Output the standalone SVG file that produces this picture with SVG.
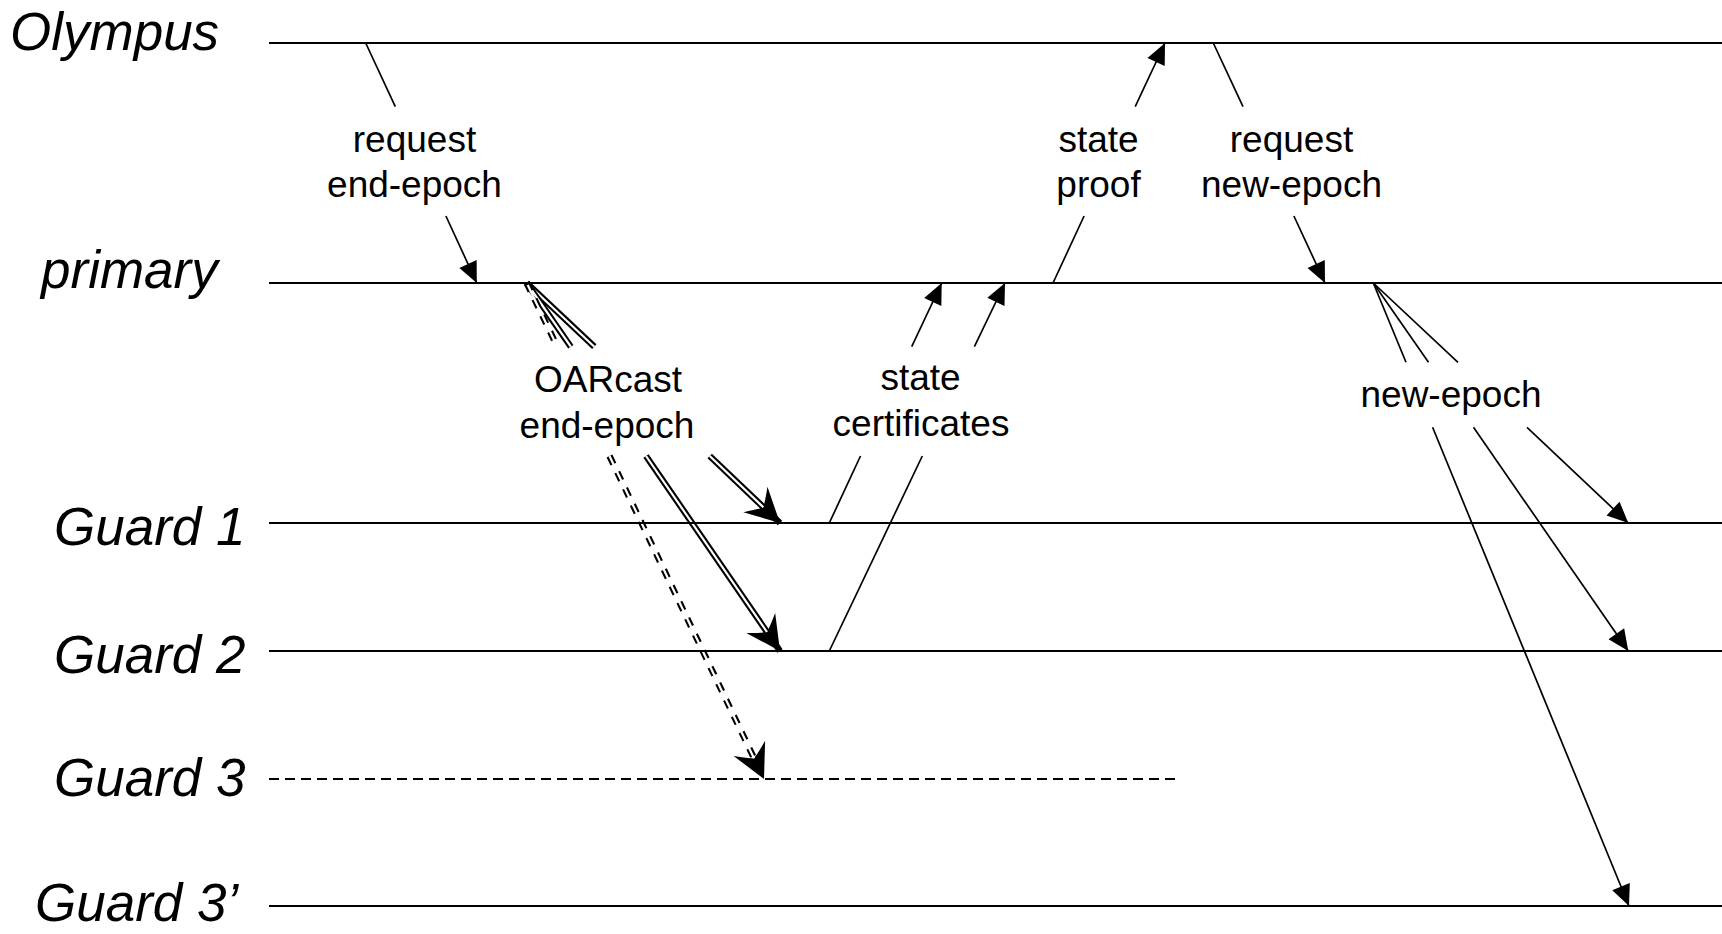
<svg xmlns="http://www.w3.org/2000/svg" width="1722" height="934" viewBox="0 0 1722 934">
  <style>
    .lane { stroke: #000; stroke-width: 2; fill: none; }
    .lane-dash { stroke: #000; stroke-width: 2; fill: none; stroke-dasharray: 10 6; }
    .lane-label { font-family: "Liberation Sans", Arial, sans-serif; font-style: italic; font-size: 53px; fill: #000; }
    .msg { stroke: #000; stroke-width: 1.7; fill: none; }
    .dbl-outer { stroke: #000; stroke-width: 6.4; fill: none; }
    .dbl-outer-dash { stroke: #000; stroke-width: 6.4; fill: none; stroke-dasharray: 9 9; }
    .dbl-inner { stroke: #fff; stroke-width: 2.2; fill: none; }
    .msg-label { font-family: "Liberation Sans", Arial, sans-serif; font-size: 37px; fill: #000; text-anchor: middle; }
  </style>
  <defs>
    <marker id="arrow" viewBox="-24 -12 26 24" markerWidth="26" markerHeight="24" refX="0" refY="0" orient="auto" markerUnits="userSpaceOnUse">
      <path d="M0,0 L-21,-9.5 L-21,9.5 Z" fill="#000"/>
    </marker>
    <marker id="arrow-big" viewBox="-38 -20 40 40" markerWidth="40" markerHeight="40" refX="0" refY="0" orient="auto" markerUnits="userSpaceOnUse">
      <path d="M0,0 L-34,-17.5 Q-26,-6 -23,0 Q-26,6 -34,17.5 Z" fill="#000"/>
    </marker>
  </defs>

  <rect x="0" y="0" width="1722" height="934" fill="#fff"/>

  <!-- message arrows between the lanes -->
  <g id="connectors">
    <!-- request end-epoch: Olympus -> primary -->
    <line class="msg" x1="365.7" y1="43" x2="395.3" y2="106.7"/>
    <line class="msg" x1="445.9" y1="216" x2="476.8" y2="283" marker-end="url(#arrow)"/>

    <!-- state proof: primary -> Olympus -->
    <line class="msg" x1="1053" y1="283" x2="1084.1" y2="216"/>
    <line class="msg" x1="1135.2" y1="106.7" x2="1165" y2="43" marker-end="url(#arrow)"/>

    <!-- request new-epoch: Olympus -> primary -->
    <line class="msg" x1="1213.3" y1="43" x2="1243" y2="106.7"/>
    <line class="msg" x1="1293.9" y1="216" x2="1325" y2="283" marker-end="url(#arrow)"/>

    <!-- state certificates: Guard 1 / Guard 2 -> primary -->
    <line class="msg" x1="829.3" y1="523" x2="860.5" y2="456"/>
    <line class="msg" x1="911.7" y1="346.7" x2="941.7" y2="283" marker-end="url(#arrow)"/>
    <line class="msg" x1="829.3" y1="651" x2="922.3" y2="456"/>
    <line class="msg" x1="974.4" y1="346.7" x2="1005" y2="283" marker-end="url(#arrow)"/>

    <!-- new-epoch: primary -> Guard 1, Guard 2, Guard 3' -->
    <line class="msg" x1="1373.3" y1="283" x2="1458" y2="362.3"/>
    <line class="msg" x1="1527" y1="427.3" x2="1628.3" y2="523" marker-end="url(#arrow)"/>
    <line class="msg" x1="1373.3" y1="283" x2="1428.5" y2="362.3"/>
    <line class="msg" x1="1473.5" y1="427.3" x2="1628.3" y2="651" marker-end="url(#arrow)"/>
    <line class="msg" x1="1373.3" y1="283" x2="1406" y2="362.3"/>
    <line class="msg" x1="1432.6" y1="427.3" x2="1629" y2="906" marker-end="url(#arrow)"/>

    <!-- OARcast end-epoch: primary -> Guard 1 (double line) -->
    <line class="dbl-outer" x1="526.7" y1="283" x2="594.3" y2="346.7"/>
    <line class="dbl-inner" x1="528.5" y1="284.7" x2="594.3" y2="346.7"/>
    <line class="dbl-outer" x1="709.7" y1="456" x2="780" y2="523" marker-end="url(#arrow-big)"/>
    <line class="dbl-inner" x1="709.7" y1="456" x2="763.3" y2="507.2"/>

    <!-- OARcast end-epoch: primary -> Guard 2 (double line) -->
    <line class="dbl-outer" x1="526.7" y1="283" x2="570.8" y2="346.7"/>
    <line class="dbl-inner" x1="528.1" y1="285" x2="570.8" y2="346.7"/>
    <line class="dbl-outer" x1="646" y1="456" x2="780" y2="651" marker-end="url(#arrow-big)"/>
    <line class="dbl-inner" x1="646" y1="456" x2="767" y2="632"/>

    <!-- OARcast end-epoch: primary -> Guard 3 (dashed double line) -->
    <line class="dbl-outer-dash" x1="526.7" y1="283" x2="557.3" y2="346.7"/>
    <line class="dbl-inner" x1="527.7" y1="285" x2="557.3" y2="346.7"/>
    <line class="dbl-outer-dash" x1="609.5" y1="456" x2="764" y2="779" marker-end="url(#arrow-big)"/>
    <line class="dbl-inner" x1="609.5" y1="456" x2="754" y2="758.3"/>
  </g>

  <!-- process lanes -->
  <g id="olympus">
    <line class="lane" x1="269" y1="43" x2="1722" y2="43"/>
    <text class="lane-label" x="10" y="50">Olympus</text>
  </g>
  <g id="primary">
    <line class="lane" x1="269" y1="283" x2="1722" y2="283"/>
    <text class="lane-label" x="41" y="288">primary</text>
  </g>
  <g id="guard-1">
    <line class="lane" x1="269" y1="523" x2="1722" y2="523"/>
    <text class="lane-label" x="54" y="545">Guard 1</text>
  </g>
  <g id="guard-2">
    <line class="lane" x1="269" y1="651" x2="1722" y2="651"/>
    <text class="lane-label" x="54" y="673">Guard 2</text>
  </g>
  <g id="guard-3">
    <line class="lane-dash" x1="269" y1="779" x2="1177" y2="779"/>
    <text class="lane-label" x="54" y="796">Guard 3</text>
  </g>
  <g id="guard-3-prime">
    <line class="lane" x1="269" y1="906" x2="1722" y2="906"/>
    <text class="lane-label" x="35" y="921">Guard 3’</text>
  </g>

  <!-- message labels -->
  <g id="labels">
    <text class="msg-label" x="414.5" y="152">request</text>
    <text class="msg-label" x="414.5" y="197">end-epoch</text>
    <text class="msg-label" x="1098.5" y="152">state</text>
    <text class="msg-label" x="1098.5" y="197">proof</text>
    <text class="msg-label" x="1291.5" y="152">request</text>
    <text class="msg-label" x="1291.5" y="197">new-epoch</text>
    <text class="msg-label" x="608" y="392">OARcast</text>
    <text class="msg-label" x="607" y="437.5">end-epoch</text>
    <text class="msg-label" x="920.5" y="390">state</text>
    <text class="msg-label" x="921" y="436">certificates</text>
    <text class="msg-label" x="1451" y="407">new-epoch</text>
  </g>
</svg>
